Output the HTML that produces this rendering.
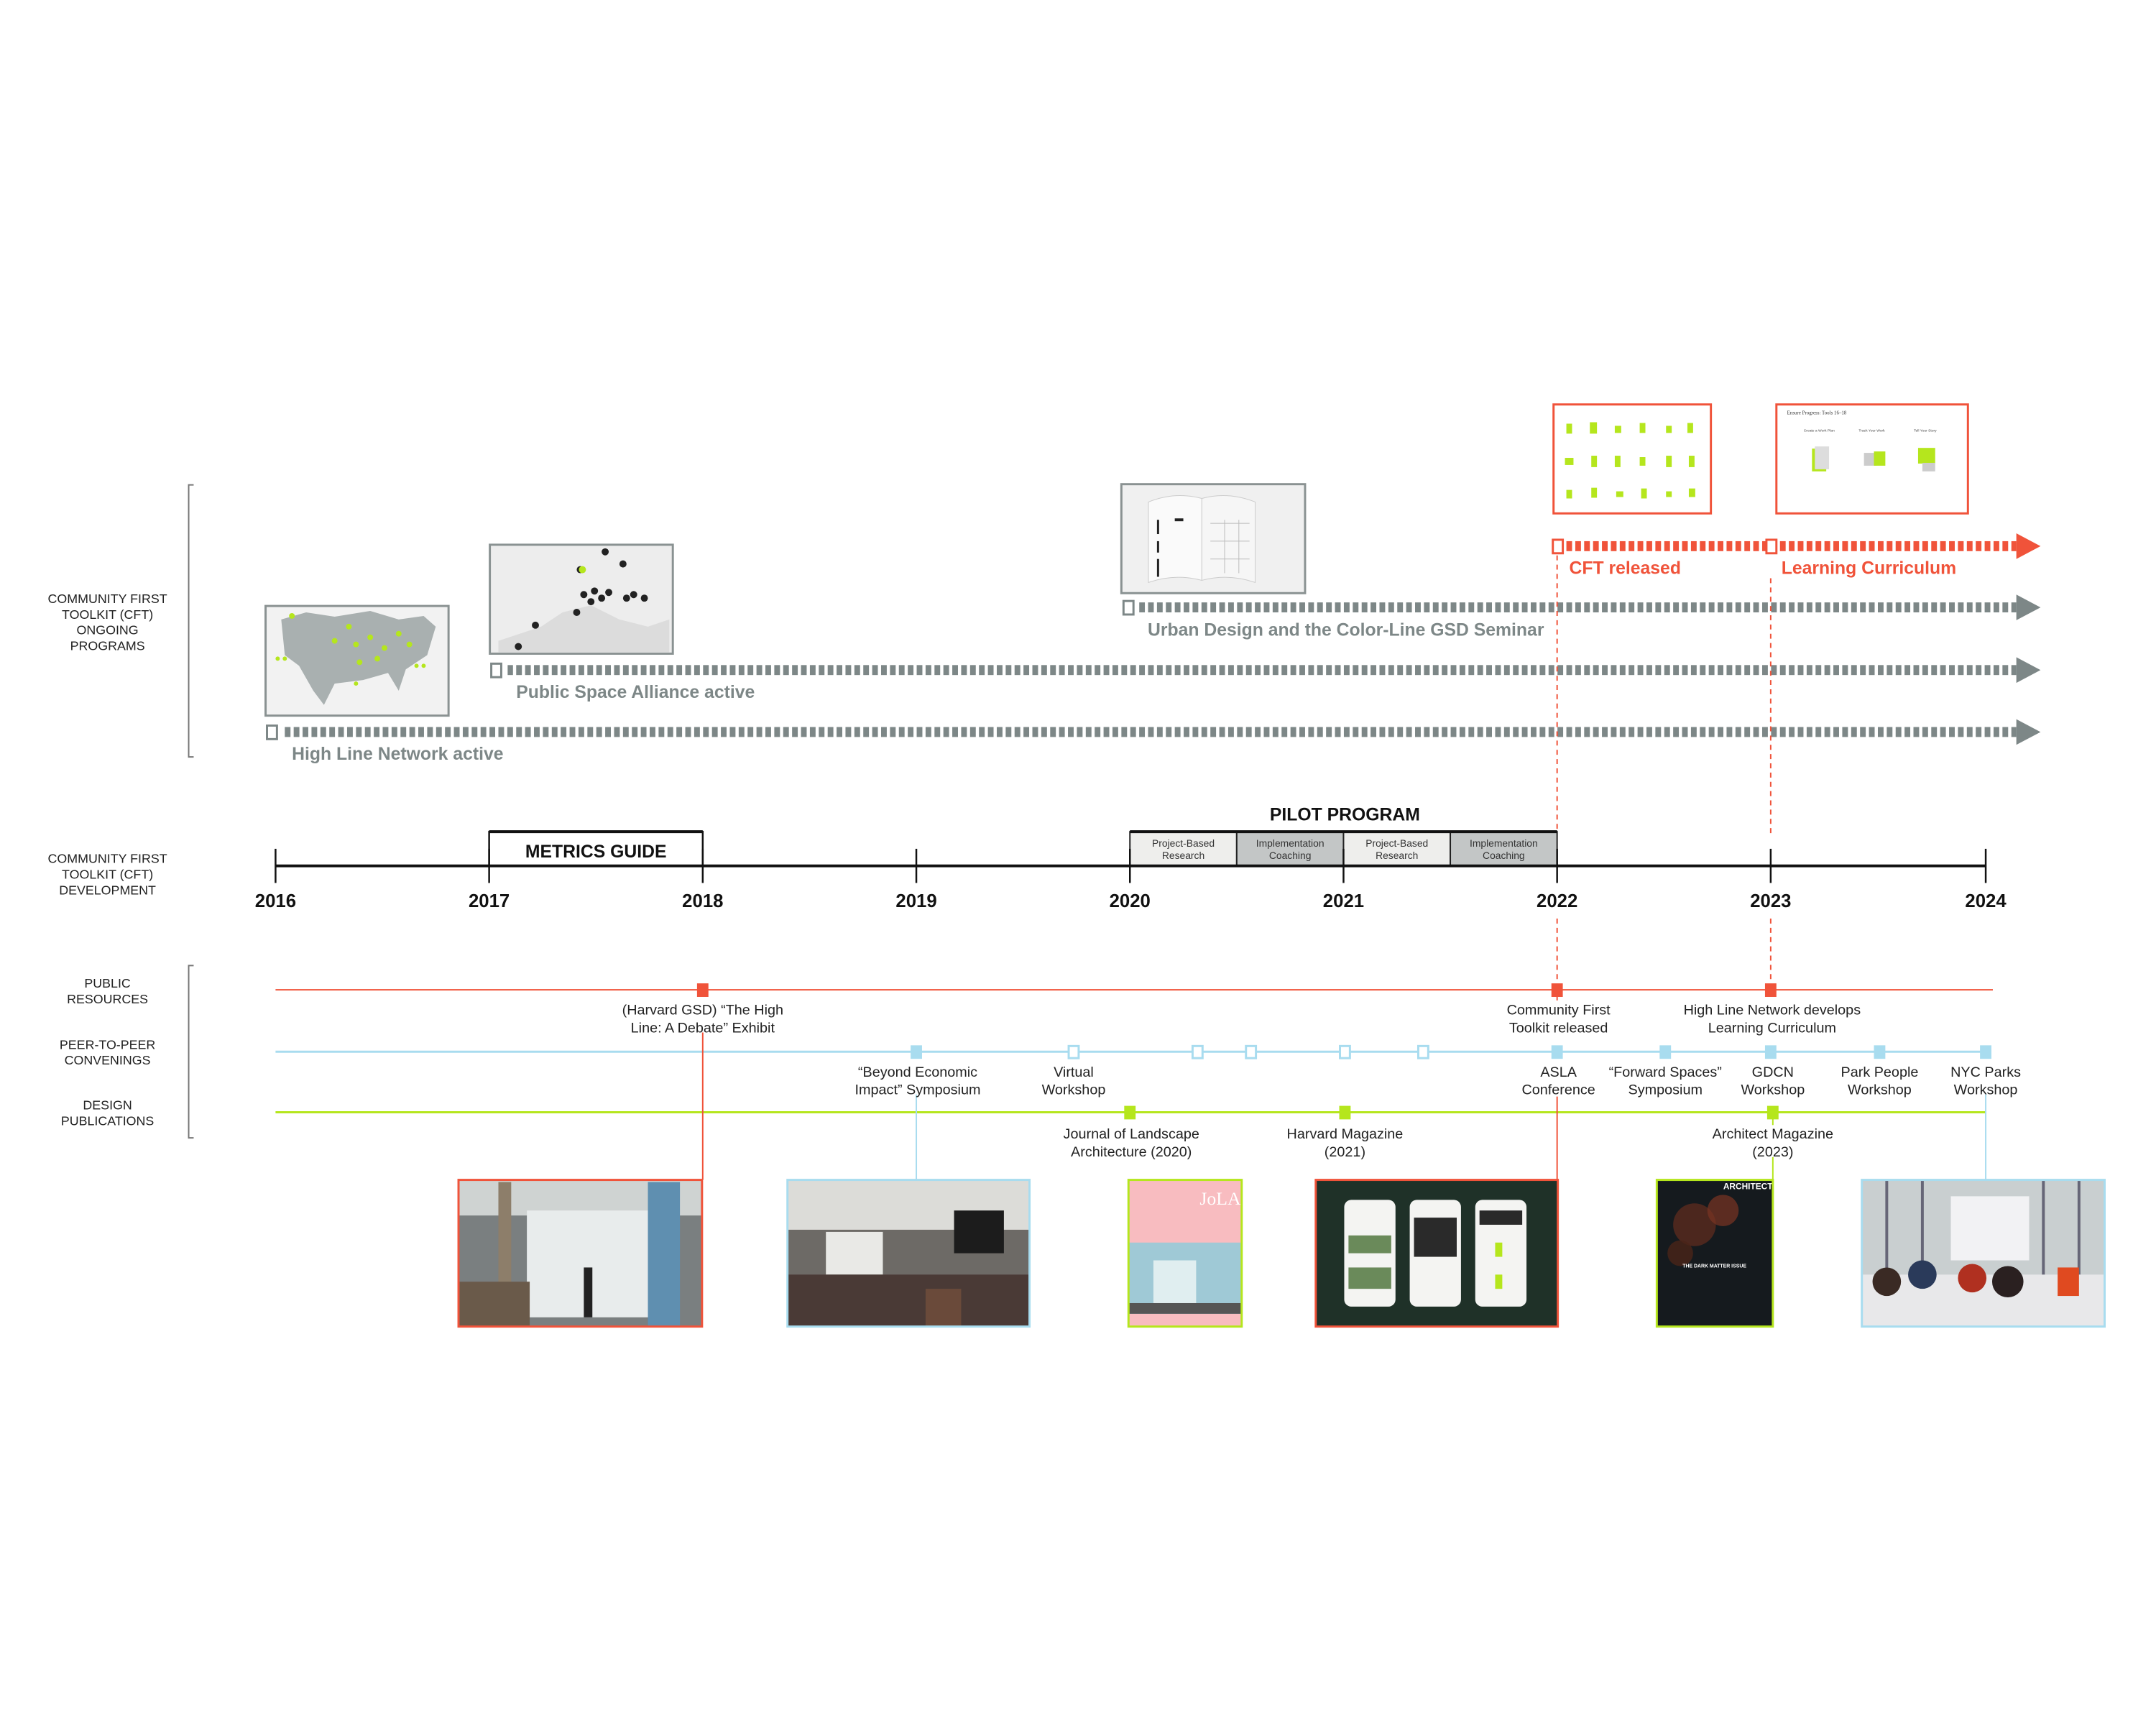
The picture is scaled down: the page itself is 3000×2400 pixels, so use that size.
<!DOCTYPE html>
<html><head><meta charset="utf-8"><style>
html,body{margin:0;padding:0;background:#fff;}
svg{display:block;}
</style></head><body>
<svg width="3000" height="2400" viewBox="0 0 3000 2400" xmlns="http://www.w3.org/2000/svg" font-family="'Liberation Sans', sans-serif">
<defs>
<pattern id="pg" x="0" y="0" width="12.5" height="20" patternUnits="userSpaceOnUse"><rect width="8" height="20" fill="#7d8787"/></pattern>
<pattern id="po" x="0" y="0" width="12.5" height="20" patternUnits="userSpaceOnUse"><rect width="8" height="20" fill="#f0533a"/></pattern>
</defs>
<rect width="3000" height="2400" fill="#fff"/>
<g transform="scale(0.9907)">

<!-- left section labels -->
<g font-size="18" fill="#222" text-anchor="middle">
<text x="151" y="847">COMMUNITY FIRST</text>
<text x="151" y="869">TOOLKIT (CFT)</text>
<text x="151" y="891">ONGOING</text>
<text x="151" y="913">PROGRAMS</text>
<text x="151" y="1212">COMMUNITY FIRST</text>
<text x="151" y="1234">TOOLKIT (CFT)</text>
<text x="151" y="1256">DEVELOPMENT</text>
<text x="151" y="1387">PUBLIC</text>
<text x="151" y="1409">RESOURCES</text>
<text x="151" y="1473">PEER-TO-PEER</text>
<text x="151" y="1495">CONVENINGS</text>
<text x="151" y="1558">DESIGN</text>
<text x="151" y="1580">PUBLICATIONS</text>
</g>
<g stroke="#777" stroke-width="2" fill="none">
<path d="M272 681 H265 V1063 H272"/>
<path d="M272 1356 H265 V1598 H272"/>
</g>

<!-- images top -->
<g>
<rect x="373" y="851" width="257" height="154" fill="#f2f2f2" stroke="#8a9292" stroke-width="3"/>
<path d="M395 870 L430 860 L470 866 L520 858 L560 870 L595 865 L612 880 L600 920 L570 940 L560 970 L545 945 L510 955 L470 960 L455 990 L440 970 L420 935 L400 920 Z" fill="#a9b0b0"/>
<g fill="#b5e61d"><circle cx="470" cy="900" r="4"/><circle cx="500" cy="905" r="4"/><circle cx="520" cy="895" r="4"/><circle cx="540" cy="910" r="4"/><circle cx="560" cy="890" r="4"/><circle cx="575" cy="905" r="4"/><circle cx="505" cy="930" r="4"/><circle cx="530" cy="925" r="4"/><circle cx="410" cy="865" r="4"/><circle cx="390" cy="925" r="3"/><circle cx="400" cy="925" r="3"/><circle cx="585" cy="935" r="3"/><circle cx="595" cy="935" r="3"/><circle cx="500" cy="960" r="3"/><circle cx="490" cy="880" r="4"/></g>
<rect x="688" y="765" width="257" height="153" fill="#ededed" stroke="#8a9292" stroke-width="3"/>
<path d="M700 900 L760 880 L790 860 L830 850 L870 870 L910 880 L940 870 L940 916 L700 916 Z" fill="#dcdcdc"/>
<g fill="#222"><circle cx="850" cy="775" r="5"/><circle cx="875" cy="792" r="5"/><circle cx="815" cy="800" r="5"/><circle cx="820" cy="835" r="5"/><circle cx="835" cy="830" r="5"/><circle cx="845" cy="840" r="5"/><circle cx="830" cy="845" r="5"/><circle cx="855" cy="832" r="5"/><circle cx="880" cy="840" r="5"/><circle cx="890" cy="835" r="5"/><circle cx="810" cy="860" r="5"/><circle cx="752" cy="878" r="5"/><circle cx="728" cy="908" r="5"/><circle cx="905" cy="840" r="5"/></g>
<circle cx="818" cy="800" r="5" fill="#b5e61d"/>
<rect x="1575" y="680" width="258" height="153" fill="#f0f0f0" stroke="#8a9292" stroke-width="3"/>
<path d="M1613 705 Q1650 690 1688 700 L1688 815 Q1650 805 1613 818 Z" fill="#fafafa" stroke="#ccc"/>
<path d="M1688 700 Q1725 690 1763 705 L1763 818 Q1725 805 1688 815 Z" fill="#f6f6f6" stroke="#ccc"/>
<g fill="#222"><rect x="1625" y="730" width="3" height="20"/><rect x="1625" y="760" width="3" height="16"/><rect x="1625" y="785" width="3" height="25"/><rect x="1650" y="728" width="12" height="4"/></g>
<g stroke="#bbb" stroke-width="1"><line x1="1700" y1="735" x2="1755" y2="735"/><line x1="1700" y1="760" x2="1755" y2="760"/><line x1="1700" y1="785" x2="1755" y2="785"/><line x1="1720" y1="730" x2="1720" y2="805"/><line x1="1740" y1="730" x2="1740" y2="805"/></g>
<rect x="2182" y="568" width="221" height="153" fill="#fff" stroke="#f0533a" stroke-width="3"/>
<g fill="#b5e61d">
<rect x="2200" y="595" width="8" height="14"/><rect x="2233" y="593" width="10" height="16"/><rect x="2268" y="598" width="9" height="10"/><rect x="2303" y="594" width="8" height="14"/><rect x="2340" y="598" width="8" height="10"/><rect x="2370" y="594" width="8" height="14"/>
<rect x="2198" y="643" width="12" height="10"/><rect x="2235" y="640" width="8" height="16"/><rect x="2268" y="640" width="8" height="16"/><rect x="2303" y="642" width="8" height="12"/><rect x="2340" y="640" width="8" height="16"/><rect x="2372" y="640" width="8" height="16"/>
<rect x="2200" y="688" width="8" height="12"/><rect x="2235" y="685" width="8" height="14"/><rect x="2270" y="690" width="10" height="8"/><rect x="2305" y="686" width="8" height="14"/><rect x="2340" y="690" width="8" height="8"/><rect x="2372" y="686" width="9" height="12"/>
</g>
<rect x="2495" y="568" width="269" height="153" fill="#fff" stroke="#f0533a" stroke-width="3"/>
<text x="2510" y="582" font-size="7" font-family="'Liberation Serif', serif" fill="#333">Ensure Progress: Tools 16–18</text>
<g font-size="5" fill="#444" text-anchor="middle"><text x="2555" y="606">Create a Work Plan</text><text x="2629" y="606">Track Your Work</text><text x="2704" y="606">Tell Your Story</text></g>
<rect x="2545" y="630" width="20" height="32" fill="#b5e61d"/><rect x="2549" y="627" width="20" height="32" fill="#ddd"/>
<rect x="2618" y="636" width="18" height="18" fill="#ccc"/><rect x="2632" y="634" width="16" height="20" fill="#b5e61d"/>
<rect x="2694" y="629" width="24" height="22" fill="#b5e61d"/><rect x="2700" y="650" width="18" height="12" fill="#ccc"/>
</g>

<!-- ongoing program bars -->
<g>
<rect x="2200" y="760" width="632" height="14" fill="url(#po)"/>
<polygon points="2832,749 2866,767 2832,785" fill="#f0533a"/>
<rect x="2181" y="758" width="14" height="19" fill="#fff" stroke="#f0533a" stroke-width="3"/>
<rect x="2481" y="758" width="14" height="19" fill="#fff" stroke="#f0533a" stroke-width="3"/>

<rect x="1600" y="846" width="1232" height="14" fill="url(#pg)"/>
<polygon points="2832,835 2866,853 2832,871" fill="#7d8787"/>
<rect x="1578" y="844" width="14" height="19" fill="#fff" stroke="#7d8787" stroke-width="3"/>

<rect x="713" y="934" width="2119" height="14" fill="url(#pg)"/>
<polygon points="2832,923 2866,941 2832,959" fill="#7d8787"/>
<rect x="690" y="932" width="14" height="19" fill="#fff" stroke="#7d8787" stroke-width="3"/>

<rect x="398" y="1021" width="2434" height="14" fill="url(#pg)"/>
<polygon points="2832,1010 2866,1028 2832,1046" fill="#7d8787"/>
<rect x="375" y="1019" width="14" height="19" fill="#fff" stroke="#7d8787" stroke-width="3"/>
</g>
<g font-size="25" font-weight="bold">
<text x="2204" y="806" fill="#f0533a">CFT released</text>
<text x="2502" y="806" fill="#f0533a">Learning Curriculum</text>
<text x="1612" y="893" fill="#7d8787">Urban Design and the Color-Line GSD Seminar</text>
<text x="725" y="980" fill="#7d8787">Public Space Alliance active</text>
<text x="410" y="1067" fill="#7d8787">High Line Network active</text>
</g>

<!-- dashed verticals -->
<g stroke="#f0533a" stroke-width="2" stroke-dasharray="7,6">
<line x1="2187" y1="780" x2="2187" y2="1166"/>
<line x1="2187" y1="1290" x2="2187" y2="1380"/>
<line x1="2487" y1="812" x2="2487" y2="1175"/>
<line x1="2487" y1="1290" x2="2487" y2="1380"/>
</g>

<!-- development axis -->
<rect x="1587" y="1168" width="150" height="48" fill="#eeeeec" stroke="#222" stroke-width="2"/>
<rect x="1737" y="1168" width="150" height="48" fill="#c3c6c6" stroke="#222" stroke-width="2"/>
<rect x="1887" y="1168" width="150" height="48" fill="#eeeeec" stroke="#222" stroke-width="2"/>
<rect x="2037" y="1168" width="150" height="48" fill="#c3c6c6" stroke="#222" stroke-width="2"/>
<line x1="1587" y1="1168" x2="2187" y2="1168" stroke="#111" stroke-width="4"/>
<g font-size="14" fill="#333" text-anchor="middle">
<text x="1662" y="1189">Project-Based</text><text x="1662" y="1206">Research</text>
<text x="1812" y="1189">Implementation</text><text x="1812" y="1206">Coaching</text>
<text x="1962" y="1189">Project-Based</text><text x="1962" y="1206">Research</text>
<text x="2112" y="1189">Implementation</text><text x="2112" y="1206">Coaching</text>
</g>
<text x="1889" y="1152" font-size="25" font-weight="bold" text-anchor="middle" fill="#111">PILOT PROGRAM</text>
<rect x="687" y="1168" width="300" height="48" fill="#fff" stroke="#111" stroke-width="2.5"/>
<line x1="687" y1="1168" x2="987" y2="1168" stroke="#111" stroke-width="4"/>
<text x="837" y="1204" font-size="25" font-weight="bold" text-anchor="middle" fill="#111">METRICS GUIDE</text>
<line x1="387" y1="1216" x2="2789" y2="1216" stroke="#111" stroke-width="4"/>
<g stroke="#111" stroke-width="2.5">
<line x1="387" y1="1192" x2="387" y2="1240"/><line x1="687" y1="1192" x2="687" y2="1240"/><line x1="987" y1="1192" x2="987" y2="1240"/><line x1="1287" y1="1192" x2="1287" y2="1240"/><line x1="1587" y1="1192" x2="1587" y2="1240"/><line x1="1887" y1="1192" x2="1887" y2="1240"/><line x1="2187" y1="1192" x2="2187" y2="1240"/><line x1="2487" y1="1192" x2="2487" y2="1240"/><line x1="2789" y1="1192" x2="2789" y2="1240"/>
</g>
<g font-size="26" font-weight="bold" text-anchor="middle" fill="#111">
<text x="387" y="1274">2016</text><text x="687" y="1274">2017</text><text x="987" y="1274">2018</text><text x="1287" y="1274">2019</text><text x="1587" y="1274">2020</text><text x="1887" y="1274">2021</text><text x="2187" y="1274">2022</text><text x="2487" y="1274">2023</text><text x="2789" y="1274">2024</text>
</g>

<!-- bottom timeline lines -->
<line x1="387" y1="1390" x2="2799" y2="1390" stroke="#f0533a" stroke-width="2"/>
<line x1="387" y1="1477" x2="2789" y2="1477" stroke="#a8dcef" stroke-width="3"/>
<line x1="387" y1="1562" x2="2789" y2="1562" stroke="#b5e61d" stroke-width="3"/>

<!-- connectors to photos -->
<g stroke-width="2">
<line x1="987" y1="1450" x2="987" y2="1657" stroke="#f0533a"/>
<line x1="2187" y1="1540" x2="2187" y2="1657" stroke="#f0533a"/>
<line x1="1287" y1="1537" x2="1287" y2="1657" stroke="#a8dcef"/>
<line x1="2789" y1="1537" x2="2789" y2="1657" stroke="#a8dcef"/>
<line x1="2490" y1="1625" x2="2490" y2="1657" stroke="#b5e61d"/>
<line x1="2490" y1="1562" x2="2490" y2="1580" stroke="#b5e61d"/>
<line x1="2187" y1="1390" x2="2187" y2="1405" stroke="#f0533a"/>
</g>

<!-- markers -->
<g fill="#f0533a"><rect x="979" y="1381" width="16" height="19"/><rect x="2179" y="1381" width="16" height="19"/><rect x="2479" y="1381" width="16" height="19"/></g>
<g fill="#a8dcef"><rect x="1279" y="1468" width="16" height="19"/><rect x="2179" y="1468" width="16" height="19"/><rect x="2331" y="1468" width="16" height="19"/><rect x="2479" y="1468" width="16" height="19"/><rect x="2632" y="1468" width="16" height="19"/><rect x="2781" y="1468" width="16" height="19"/></g>
<g fill="#fff" stroke="#a8dcef" stroke-width="3"><rect x="1501" y="1469" width="14" height="17"/><rect x="1675" y="1469" width="14" height="17"/><rect x="1750" y="1469" width="14" height="17"/><rect x="1882" y="1469" width="14" height="17"/><rect x="1992" y="1469" width="14" height="17"/></g>
<g fill="#b5e61d"><rect x="1579" y="1553" width="16" height="19"/><rect x="1881" y="1553" width="16" height="19"/><rect x="2482" y="1553" width="16" height="19"/></g>

<!-- event labels -->
<g font-size="20" fill="#222" text-anchor="middle">
<text x="987" y="1425">(Harvard GSD) “The High</text><text x="987" y="1450">Line: A Debate” Exhibit</text>
<text x="2189" y="1425">Community First</text><text x="2189" y="1450">Toolkit released</text>
<text x="2489" y="1425">High Line Network develops</text><text x="2489" y="1450">Learning Curriculum</text>
<text x="1289" y="1512">“Beyond Economic</text><text x="1289" y="1537">Impact” Symposium</text>
<text x="1508" y="1512">Virtual</text><text x="1508" y="1537">Workshop</text>
<text x="2189" y="1512">ASLA</text><text x="2189" y="1537">Conference</text>
<text x="2339" y="1512">“Forward Spaces”</text><text x="2339" y="1537">Symposium</text>
<text x="2490" y="1512">GDCN</text><text x="2490" y="1537">Workshop</text>
<text x="2640" y="1512">Park People</text><text x="2640" y="1537">Workshop</text>
<text x="2789" y="1512">NYC Parks</text><text x="2789" y="1537">Workshop</text>
<text x="1589" y="1599">Journal of Landscape</text><text x="1589" y="1624">Architecture (2020)</text>
<text x="1889" y="1599">Harvard Magazine</text><text x="1889" y="1624">(2021)</text>
<text x="2490" y="1599">Architect Magazine</text><text x="2490" y="1624">(2023)</text>
</g>

<!-- photos -->
<g>
<rect x="644" y="1657" width="342" height="206" fill="#7a7f80"/>
<rect x="644" y="1657" width="342" height="50" fill="#cfd3d2"/>
<rect x="740" y="1700" width="180" height="150" fill="#e8ecec"/>
<rect x="910" y="1660" width="45" height="203" fill="#5f8fb0"/>
<rect x="700" y="1660" width="18" height="203" fill="#8d7e6a"/>
<rect x="644" y="1800" width="100" height="63" fill="#6a5a4a"/>
<rect x="820" y="1780" width="12" height="70" fill="#222"/>
<rect x="644" y="1657" width="342" height="206" fill="none" stroke="#f0533a" stroke-width="3"/>

<rect x="1106" y="1657" width="340" height="206" fill="#6d6a66"/>
<rect x="1106" y="1657" width="340" height="70" fill="#dcdcd8"/>
<rect x="1340" y="1700" width="70" height="60" fill="#1c1c1c"/>
<rect x="1160" y="1730" width="80" height="60" fill="#e9e9e6"/>
<rect x="1106" y="1790" width="340" height="73" fill="#4a3a36"/>
<rect x="1300" y="1810" width="50" height="53" fill="#6a4a3a"/>
<rect x="1106" y="1657" width="340" height="206" fill="none" stroke="#a8dcef" stroke-width="3"/>

<rect x="1585" y="1657" width="159" height="206" fill="#f8bcc0"/>
<rect x="1585" y="1745" width="159" height="100" fill="#9fc9d6"/>
<rect x="1620" y="1770" width="60" height="70" fill="#e0eef0"/>
<rect x="1585" y="1830" width="159" height="15" fill="#555"/>
<text x="1685" y="1692" font-size="26" font-family="'Liberation Serif', serif" fill="#fff">JoLA</text>
<rect x="1585" y="1657" width="159" height="206" fill="none" stroke="#b5e61d" stroke-width="3"/>

<rect x="1848" y="1657" width="340" height="206" fill="#1f3128"/>
<rect x="1888" y="1685" width="72" height="150" rx="10" fill="#f4f4f2"/>
<rect x="1980" y="1685" width="72" height="150" rx="10" fill="#f4f4f2"/>
<rect x="2072" y="1685" width="72" height="150" rx="10" fill="#f4f4f2"/>
<rect x="1986" y="1710" width="60" height="55" fill="#2a2a2a"/>
<rect x="2078" y="1700" width="60" height="20" fill="#2a2a2a"/>
<rect x="1894" y="1735" width="60" height="25" fill="#6a8a5a"/><rect x="1894" y="1780" width="60" height="30" fill="#6a8a5a"/>
<rect x="2100" y="1745" width="10" height="20" fill="#b5e61d"/><rect x="2100" y="1790" width="10" height="20" fill="#b5e61d"/>
<rect x="1848" y="1657" width="340" height="206" fill="none" stroke="#f0533a" stroke-width="3"/>

<rect x="2327" y="1657" width="163" height="206" fill="#151a1e"/>
<circle cx="2380" cy="1720" r="30" fill="#5a2a1e" opacity="0.8"/>
<circle cx="2420" cy="1700" r="22" fill="#7a3522" opacity="0.7"/>
<circle cx="2360" cy="1760" r="18" fill="#4a2418" opacity="0.8"/>
<text x="2455" y="1670" font-size="12" font-weight="bold" fill="#fff" text-anchor="middle">ARCHITECT</text>
<text x="2408" y="1780" font-size="7" font-weight="bold" fill="#fff" text-anchor="middle">THE DARK MATTER ISSUE</text>
<rect x="2327" y="1657" width="163" height="206" fill="none" stroke="#b5e61d" stroke-width="3"/>

<rect x="2615" y="1657" width="341" height="206" fill="#c9cfd0"/>
<rect x="2740" y="1680" width="110" height="90" fill="#f2f2f4"/>
<g stroke="#667" stroke-width="4"><line x1="2650" y1="1657" x2="2650" y2="1800"/><line x1="2700" y1="1657" x2="2700" y2="1800"/><line x1="2870" y1="1657" x2="2870" y2="1800"/><line x1="2920" y1="1657" x2="2920" y2="1800"/></g>
<rect x="2615" y="1790" width="341" height="73" fill="#e8e8ea"/>
<circle cx="2650" cy="1800" r="20" fill="#3a2a24"/><circle cx="2700" cy="1790" r="20" fill="#2a3a5a"/><circle cx="2770" cy="1795" r="20" fill="#b03020"/><circle cx="2820" cy="1800" r="22" fill="#2a2020"/><rect x="2890" y="1780" width="30" height="40" fill="#e04a20"/>
<rect x="2615" y="1657" width="341" height="206" fill="none" stroke="#a8dcef" stroke-width="3"/>
</g>
</g>
</svg>
</body></html>
